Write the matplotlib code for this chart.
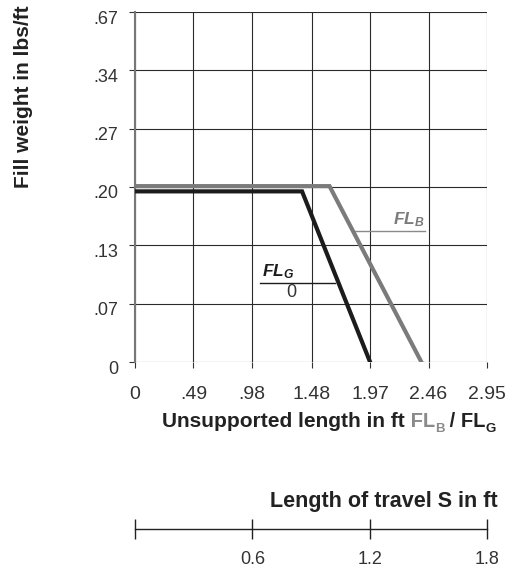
import numpy as np
import matplotlib.pyplot as plt
import matplotlib.transforms as mtransforms

plt.rcParams['font.family'] = ['Liberation Sans', 'DejaVu Sans']
plt.rcParams['mathtext.fontset'] = 'custom'
plt.rcParams['mathtext.rm'] = 'Liberation Sans'
plt.rcParams['mathtext.bf'] = 'Liberation Sans:bold'
plt.rcParams['mathtext.it'] = 'Liberation Sans:bold:italic'

# unsupported length (ft) vs fill weight (lbs/ft)
fl_b_x = [0, 1.63, 2.40]
fl_b_y = [0.201, 0.201, 0]
fl_g_x = [0, 1.40, 1.97]
fl_g_y = [0.195, 0.195, 0]

x_ticks = [0, 0.49, 0.98, 1.48, 1.97, 2.46, 2.95]
x_labels = ['0', '.49', '.98', '1.48', '1.97', '2.46', '2.95']
y_ticks = [0, 0.0667, 0.1333, 0.20, 0.2667, 0.3333, 0.40]
y_labels = ['0', '.07', '.13', '.20', '.27', '.34', '.67']

s_ticks = [0, 0.6, 1.2, 1.8]
s_labels = ['', '0.6', '1.2', '1.8']

W, H = 518, 571
fig = plt.figure(figsize=(W / 100, H / 100), dpi=100)
ax = fig.add_axes([135 / W, (H - 362) / H, 352 / W, 350 / H])

ax.plot(fl_b_x, fl_b_y, color='#7b7b7b', lw=3.0, solid_joinstyle='miter', zorder=3)
ax.plot(fl_g_x, fl_g_y, color='#1c1c1c', lw=3.0, solid_joinstyle='miter', zorder=4)

ax.set_xlim(0, 2.95)
ax.set_ylim(0, 0.40)
ax.set_xticks(x_ticks)
ax.set_xticklabels(x_labels)
ax.set_yticks(y_ticks)
ax.set_yticklabels(y_labels)
ax.grid(True, color='#2a2a2a', lw=0.8)
for s in ['top', 'right', 'bottom']:
    ax.spines[s].set_visible(False)
ax.spines['left'].set_color('#777777')
ax.spines['left'].set_linewidth(1.5)
ax.tick_params(axis='both', length=4, width=0.8, color='#333333',
               labelsize=13, labelcolor='#333333')
ax.tick_params(axis='x', pad=13, labelsize=14)
ax.tick_params(axis='y', pad=8)
off = mtransforms.ScaledTranslation(0, -5 / 100, fig.dpi_scale_trans)
for lab in ax.get_yticklabels():
    lab.set_transform(lab.get_transform() + off)

# labels on the curves
ax.plot([1.83, 2.43], [0.1497, 0.1497], color='#8a8a8a', lw=1.0)
ax.text(2.43, 0.152, 'FL$_B$', color='#7b7b7b', fontsize=12.5, fontweight='bold',
        style='italic', ha='right', va='bottom')
ax.plot([1.05, 1.68], [0.0903, 0.0903], color='#1c1c1c', lw=1.0)
ax.text(1.065, 0.093, 'FL$_G$', color='#1c1c1c', fontsize=12.5, fontweight='bold',
        style='italic', ha='left', va='bottom')
ax.text(1.31, 0.089, '0', color='#333333', fontsize=13, ha='center', va='top')

# axis titles
fig.text(24 / W, (H - 97) / H, 'Fill weight in lbs/ft', rotation=90, fontsize=15,
         fontweight='bold', color='#222222', ha='center', va='center')

t1 = fig.text(162 / W, (H - 427) / H, 'Unsupported length in ft', fontsize=15,
              fontweight='bold', color='#222222', ha='left', va='baseline')
parts = [(' FL', 14.5, '#8a8a8a', 0), ('B', 9.5, '#8a8a8a', -3),
         (' / FL', 14.5, '#222222', 3), ('G', 9.5, '#222222', -3)]
prev = t1
for txt, size, col, dy in parts:
    prev = ax.annotate(txt, xy=(1, 0), xycoords=prev, xytext=(0, dy),
                       textcoords='offset points', fontsize=size,
                       fontweight='bold', color=col, ha='left', va='bottom',
                       annotation_clip=False)

# length of travel scale
ax2 = fig.add_axes([135 / W, (H - 529) / H, 352 / W, 0.0001])
ax2.set_xlim(0, 1.8)
ax2.set_ylim(0, 1)
ax2.set_yticks([])
ax2.set_xticks(s_ticks)
ax2.set_xticklabels(s_labels)
for s in ['top', 'right', 'left']:
    ax2.spines[s].set_visible(False)
ax2.spines['bottom'].set_color('#222222')
ax2.spines['bottom'].set_linewidth(1.0)
ax2.tick_params(axis='x', direction='inout', length=14, width=1.0, color='#222222',
                labelsize=13, labelcolor='#333333', pad=9)
fig.text(498 / W, (H - 502) / H, 'Length of travel S in ft', fontsize=15.5,
         fontweight='bold', color='#222222', ha='right', va='center')

fig.savefig('out.png', dpi=100)
